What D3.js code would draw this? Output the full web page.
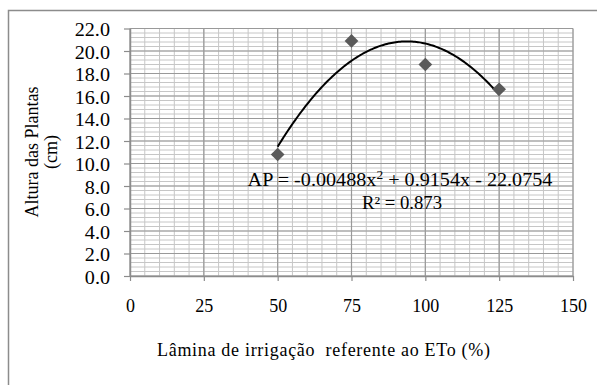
<!DOCTYPE html>
<html>
<head>
<meta charset="utf-8">
<title>Altura das Plantas</title>
<script src="https://d3js.org/d3.v7.min.js"></script>
<style>
  body { margin: 0; background: #fff; }
</style>
</head>
<body>
<div id="chart"></div>
<script>
// values
const laminas = [50, 75, 100, 125];
const alturas = [10.8, 20.9, 18.8, 16.6];
const xTickValues = [0, 25, 50, 75, 100, 125, 150];
const yTickValues = [0, 2, 4, 6, 8, 10, 12, 14, 16, 18, 20, 22];
const trendCoef = [-0.00488, 0.9154, -22.0754]; // a, b, c
const equationText = ["AP = -0.00488x", "2", " + 0.9154x - 22.0754"];
const r2Text = "R² = 0.873";

const serif = "'Liberation Serif', 'Times New Roman', Times, serif";
const width = 597, height = 385;
const margin = { left: 130, right: 24, top: 28.5, bottom: 109 };
const stretch = 1.12; // the original text is a bit wider than Liberation Serif

const svg = d3.select("#chart")
  .append("svg")
  .attr("width", width)
  .attr("height", height)
  .style("font-family", serif);

// chart area frame (runs off right and bottom edge)
svg.append("rect")
  .attr("x", 8.5).attr("y", 10.5)
  .attr("width", 620).attr("height", 400)
  .attr("fill", "#fff")
  .attr("stroke", "#8c8c8c")
  .attr("stroke-width", 1.5);

const x = d3.scaleLinear().domain([0, 150]).range([margin.left, width - margin.right]);
const y = d3.scaleLinear().domain([0, 22]).range([height - margin.bottom, margin.top]);

const g = svg.append("g");

// minor grid
g.selectAll(".hminor")
  .data(d3.range(0, 22.001, 0.4))
  .join("line")
  .attr("x1", x(0)).attr("x2", x(150))
  .attr("y1", d => y(d)).attr("y2", d => y(d))
  .attr("stroke", "#c6c6c6").attr("stroke-width", 1);

g.selectAll(".vminor")
  .data(d3.range(0, 150.001, 5))
  .join("line")
  .attr("x1", d => x(d)).attr("x2", d => x(d))
  .attr("y1", y(0)).attr("y2", y(22))
  .attr("stroke", "#c6c6c6").attr("stroke-width", 1);

// major grid
g.selectAll(".hmajor")
  .data(yTickValues)
  .join("line")
  .attr("x1", x(0)).attr("x2", x(150))
  .attr("y1", d => y(d)).attr("y2", d => y(d))
  .attr("stroke", "#999").attr("stroke-width", 1.2);

g.selectAll(".vmajor")
  .data(xTickValues)
  .join("line")
  .attr("x1", d => x(d)).attr("x2", d => x(d))
  .attr("y1", y(0)).attr("y2", y(22))
  .attr("stroke", "#999").attr("stroke-width", 1.2);

// axes
const yAxis = svg.append("g")
  .attr("transform", `translate(${x(0)},0)`)
  .call(d3.axisLeft(y).tickValues(yTickValues).tickFormat(d3.format(".1f")).tickSizeOuter(0).tickSizeInner(6));
yAxis.attr("font-family", null).attr("font-size", null);
yAxis.select(".domain").attr("stroke", "#8c8c8c").attr("stroke-width", 1.5);
yAxis.selectAll(".tick line").attr("stroke", "#8c8c8c").attr("stroke-width", 1.2);
yAxis.selectAll(".tick text")
  .style("font-family", serif)
  .style("font-size", "18px")
  .attr("fill", "#000")
  .attr("x", 0)
  .attr("transform", `translate(-20,0) scale(${stretch},1)`)
  .attr("dy", "0.39em");

const xAxis = svg.append("g")
  .attr("transform", `translate(0,${y(0)})`)
  .call(d3.axisBottom(x).tickValues(xTickValues).tickFormat(d3.format("d")).tickSizeOuter(0).tickSizeInner(5));
xAxis.attr("font-family", null).attr("font-size", null);
xAxis.select(".domain").attr("stroke", "#8c8c8c").attr("stroke-width", 1.5);
xAxis.selectAll(".tick line").attr("stroke", "#8c8c8c").attr("stroke-width", 1.2);
xAxis.selectAll(".tick text")
  .style("font-family", serif)
  .style("font-size", "18px")
  .attr("fill", "#000")
  .attr("y", 36)
  .attr("dy", null);

// trendline from the fitted equation
const trend = d3.range(laminas[0], laminas[laminas.length - 1] + 0.01, 0.5)
  .map(v => [v, trendCoef[0] * v * v + trendCoef[1] * v + trendCoef[2]]);

svg.append("path")
  .datum(trend)
  .attr("fill", "none")
  .attr("stroke", "#000")
  .attr("stroke-width", 2)
  .attr("d", d3.line().x(d => x(d[0])).y(d => y(d[1])));

// diamonds
svg.selectAll(".pt")
  .data(laminas.map((v, i) => [v, alturas[i]]))
  .join("path")
  .attr("transform", d => `translate(${x(d[0])},${y(d[1])})`)
  .attr("d", d3.symbol(d3.symbolDiamond2, 120)())
  .attr("fill", "#5a5a5a");

const label = (sel) => sel.style("font-family", serif).style("font-size", "18px").attr("fill", "#000");

// equation label
const eq = svg.append("text")
  .attr("transform", `translate(400,186) scale(${stretch},1)`)
  .attr("text-anchor", "middle")
  .call(label);
eq.append("tspan").text(equationText[0]);
eq.append("tspan").attr("dy", -7).style("font-size", "12px").text(equationText[1]);
eq.append("tspan").attr("dy", 7).text(equationText[2]);

svg.append("text")
  .attr("transform", "translate(402,209) scale(1.04,1)")
  .attr("text-anchor", "middle")
  .call(label)
  .text(r2Text);

// axis titles
svg.append("text")
  .attr("transform", "translate(38,152) rotate(-90)")
  .attr("text-anchor", "middle")
  .call(label)
  .text("Altura das Plantas");

svg.append("text")
  .attr("transform", "translate(57,152) rotate(-90)")
  .attr("text-anchor", "middle")
  .call(label)
  .text("(cm)");

svg.append("text")
  .attr("x", 157).attr("y", 356)
  .attr("textLength", 333)
  .attr("lengthAdjust", "spacing")
  .call(label)
  .style("white-space", "pre")
  .text("Lâmina de irrigação  referente ao ETo (%)");
</script>
</body>
</html>
